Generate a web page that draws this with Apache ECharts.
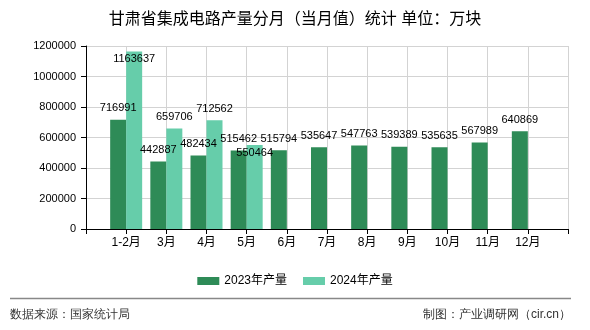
<!DOCTYPE html>
<html>
<head>
<meta charset="utf-8">
<script src="https://cdn.jsdelivr.net/npm/echarts@6/dist/echarts.min.js"></script>
<style>html,body{margin:0;padding:0;background:#fff;}#c{width:590px;height:330px;}</style>
</head>
<body>
<div id="c"></div>
<script>
var categories = ['1-2月','3月','4月','5月','6月','7月','8月','9月','10月','11月','12月'];
var values2023 = [716991, 442887, 482434, 515462, 515794, 535647, 547763, 539389, 535635, 567989, 640869];
var values2024 = [1163637, 659706, 712562, 550464];
var yTicks = [0, 200000, 400000, 600000, 800000, 1000000, 1200000];
var seriesNames = ['2023年产量', '2024年产量'];
var titleText = '甘肃省集成电路产量分月（当月值）统计 单位：万块';
var sourceText = '数据来源：国家统计局';
var creditText = '制图：产业调研网（cir.cn）';

var FONT = '"Liberation Sans", "Noto Sans CJK SC", sans-serif';
var axisData = [''].concat(categories).concat(['']);
function pad(arr) {
  var out = [null];
  for (var i = 0; i < categories.length; i++) out.push(i < arr.length ? arr[i] : null);
  out.push(null);
  return out;
}
var d23 = pad(values2023);
var d24 = pad(values2024).map(function (v) {
  if (v === 1163637 || v === 550464) {
    return { value: v, label: { position: 'insideTop', distance: 2 } };
  }
  return v;
});

var chart = echarts.init(document.getElementById('c'), null, { renderer: 'canvas' });
chart.setOption({
  animation: false,
  backgroundColor: '#fff',
  textStyle: { fontFamily: FONT },
  title: {
    text: titleText, left: 'center', top: 7,
    textStyle: { fontSize: 16, fontWeight: 'normal', color: '#000', fontFamily: FONT }
  },
  grid: { left: 86, right: 22, top: 46, bottom: 101, containLabel: false },
  legend: {
    data: seriesNames, top: 270, left: 'center',
    itemWidth: 22, itemHeight: 8, itemGap: 16, icon: 'rect',
    textStyle: { fontSize: 12, color: '#000', fontFamily: FONT }
  },
  xAxis: {
    type: 'category', data: axisData, boundaryGap: false,
    axisLine: { lineStyle: { color: '#000', width: 1 } },
    axisTick: { show: true, interval: 0, length: 5, lineStyle: { color: '#000' } },
    axisLabel: { interval: 0, fontSize: 12, color: '#000', margin: 8, fontFamily: FONT },
    splitLine: { show: true, interval: 0, lineStyle: { color: '#d3d3d3', width: 1 } }
  },
  yAxis: {
    type: 'value', min: yTicks[0], max: yTicks[yTicks.length - 1], interval: yTicks[1] - yTicks[0],
    axisLine: { show: true, lineStyle: { color: '#000', width: 1 } },
    axisTick: { show: true, length: 5, lineStyle: { color: '#000' } },
    axisLabel: { fontSize: 11, color: '#000', margin: 10, fontFamily: FONT,
      formatter: function (v) { return String(v); } },
    splitLine: { show: true, lineStyle: { color: '#d3d3d3', width: 1 } }
  },
  series: [
    {
      name: seriesNames[0], type: 'bar', data: d23, barWidth: 16, barGap: '0%',
      itemStyle: { color: '#2E8B57' },
      label: { show: true, position: 'top', distance: 6, fontSize: 11, color: '#000', fontFamily: FONT }
    },
    {
      name: seriesNames[1], type: 'bar', data: d24, barWidth: 16, barGap: '0%',
      itemStyle: { color: '#66CDAA' },
      label: { show: true, position: 'top', distance: 6, fontSize: 11, color: '#000', fontFamily: FONT }
    }
  ],
  graphic: [
    { type: 'line', shape: { x1: 10, y1: 298.5, x2: 571, y2: 298.5 }, style: { stroke: '#888', lineWidth: 1.5 } },
    { type: 'text', left: 10, top: 309, style: { text: sourceText, fontSize: 12, fill: '#333', font: '12px ' + FONT } },
    { type: 'text', right: 19, top: 309, style: { text: creditText, fontSize: 12, fill: '#333', font: '12px ' + FONT } }
  ]
});
</script>
</body>
</html>
